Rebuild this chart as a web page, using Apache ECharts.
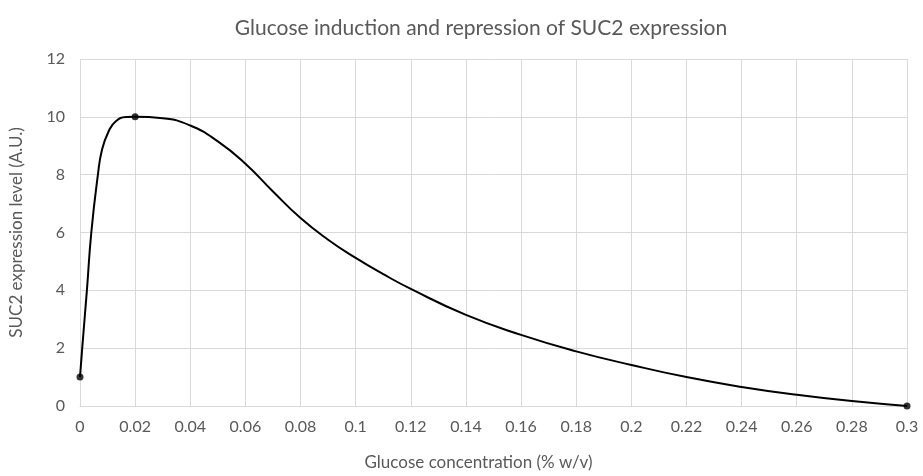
<!DOCTYPE html>
<html>
<head>
<meta charset="utf-8">
<script src="https://cdn.jsdelivr.net/npm/echarts@6/dist/echarts.min.js"></script>
<style>
html,body{margin:0;padding:0;background:#fff;}
#chart{width:923px;height:476px;}
</style>
</head>
<body>
<div id="chart"></div>
<script>
// Data
const titleText = 'Glucose induction and repression of SUC2 expression';
const xAxisName = 'Glucose concentration (% w/v)';
const yAxisName = 'SUC2 expression level (A.U.)';

// measured data points (markers)
const pointX = [0, 0.02, 0.3];
const pointY = [1, 10, 0];

// smoothed curve
const curveX = [0, 0.0008, 0.0025, 0.0041, 0.0065, 0.0080, 0.0104, 0.0130, 0.0167, 0.02, 0.03, 0.04, 0.05, 0.06, 0.07, 0.08, 0.09, 0.10, 0.11, 0.12, 0.14, 0.16, 0.18, 0.20, 0.22, 0.24, 0.26, 0.28, 0.30];
const curveY = [1, 2, 4, 6, 8, 8.87, 9.5, 9.85, 9.99, 10, 9.95, 9.70, 9.15, 8.38, 7.42, 6.50, 5.75, 5.12, 4.56, 4.05, 3.15, 2.46, 1.89, 1.42, 1.0, 0.66, 0.39, 0.17, 0];

const FONT = 'Lato, "Open Sans", sans-serif';
const chart = echarts.init(document.getElementById('chart'), null, {renderer: 'canvas'});
chart.setOption({
  animation: false,
  backgroundColor: '#ffffff',
  title: {
    text: titleText,
    left: 476, top: 13, textAlign: 'center',
    textStyle: {fontFamily: FONT, fontSize: 21, fontWeight: 'normal', color: '#595959'}
  },
  grid: {left: 80, right: 16, top: 59, bottom: 69, containLabel: false},
  xAxis: {
    type: 'value', min: 0, max: 0.3, interval: 0.02,
    name: xAxisName, nameLocation: 'middle', nameGap: 48,
    nameTextStyle: {fontFamily: FONT, fontSize: 17, color: '#595959', padding: [0, 30, 0, 0]},
    axisLine: {show: true, lineStyle: {color: '#d9d9d9', width: 1}},
    axisTick: {show: false},
    axisLabel: {fontFamily: FONT, fontSize: 16, color: '#595959', margin: 13,
      formatter: v => String(parseFloat(v.toFixed(2)))},
    splitLine: {show: true, lineStyle: {color: '#d9d9d9', width: 1}}
  },
  yAxis: {
    type: 'value', min: 0, max: 12, interval: 2,
    name: yAxisName, nameLocation: 'middle', nameGap: 55,
    nameTextStyle: {fontFamily: FONT, fontSize: 17, color: '#595959'},
    axisLine: {show: false},
    axisTick: {show: false},
    axisLabel: {fontFamily: FONT, fontSize: 16, color: '#595959', margin: 15},
    splitLine: {show: true, lineStyle: {color: '#d9d9d9', width: 1}}
  },
  series: [
    {
      type: 'line',
      data: curveX.map((x, i) => [x, curveY[i]]),
      smooth: 0.5,
      showSymbol: false,
      symbol: 'none',
      lineStyle: {color: '#000000', width: 2},
      z: 2
    },
    {
      type: 'scatter',
      data: pointX.map((x, i) => [x, pointY[i]]),
      symbol: 'circle',
      symbolSize: 7,
      itemStyle: {color: '#000000'},
      z: 3
    }
  ]
});
</script>
</body>
</html>
